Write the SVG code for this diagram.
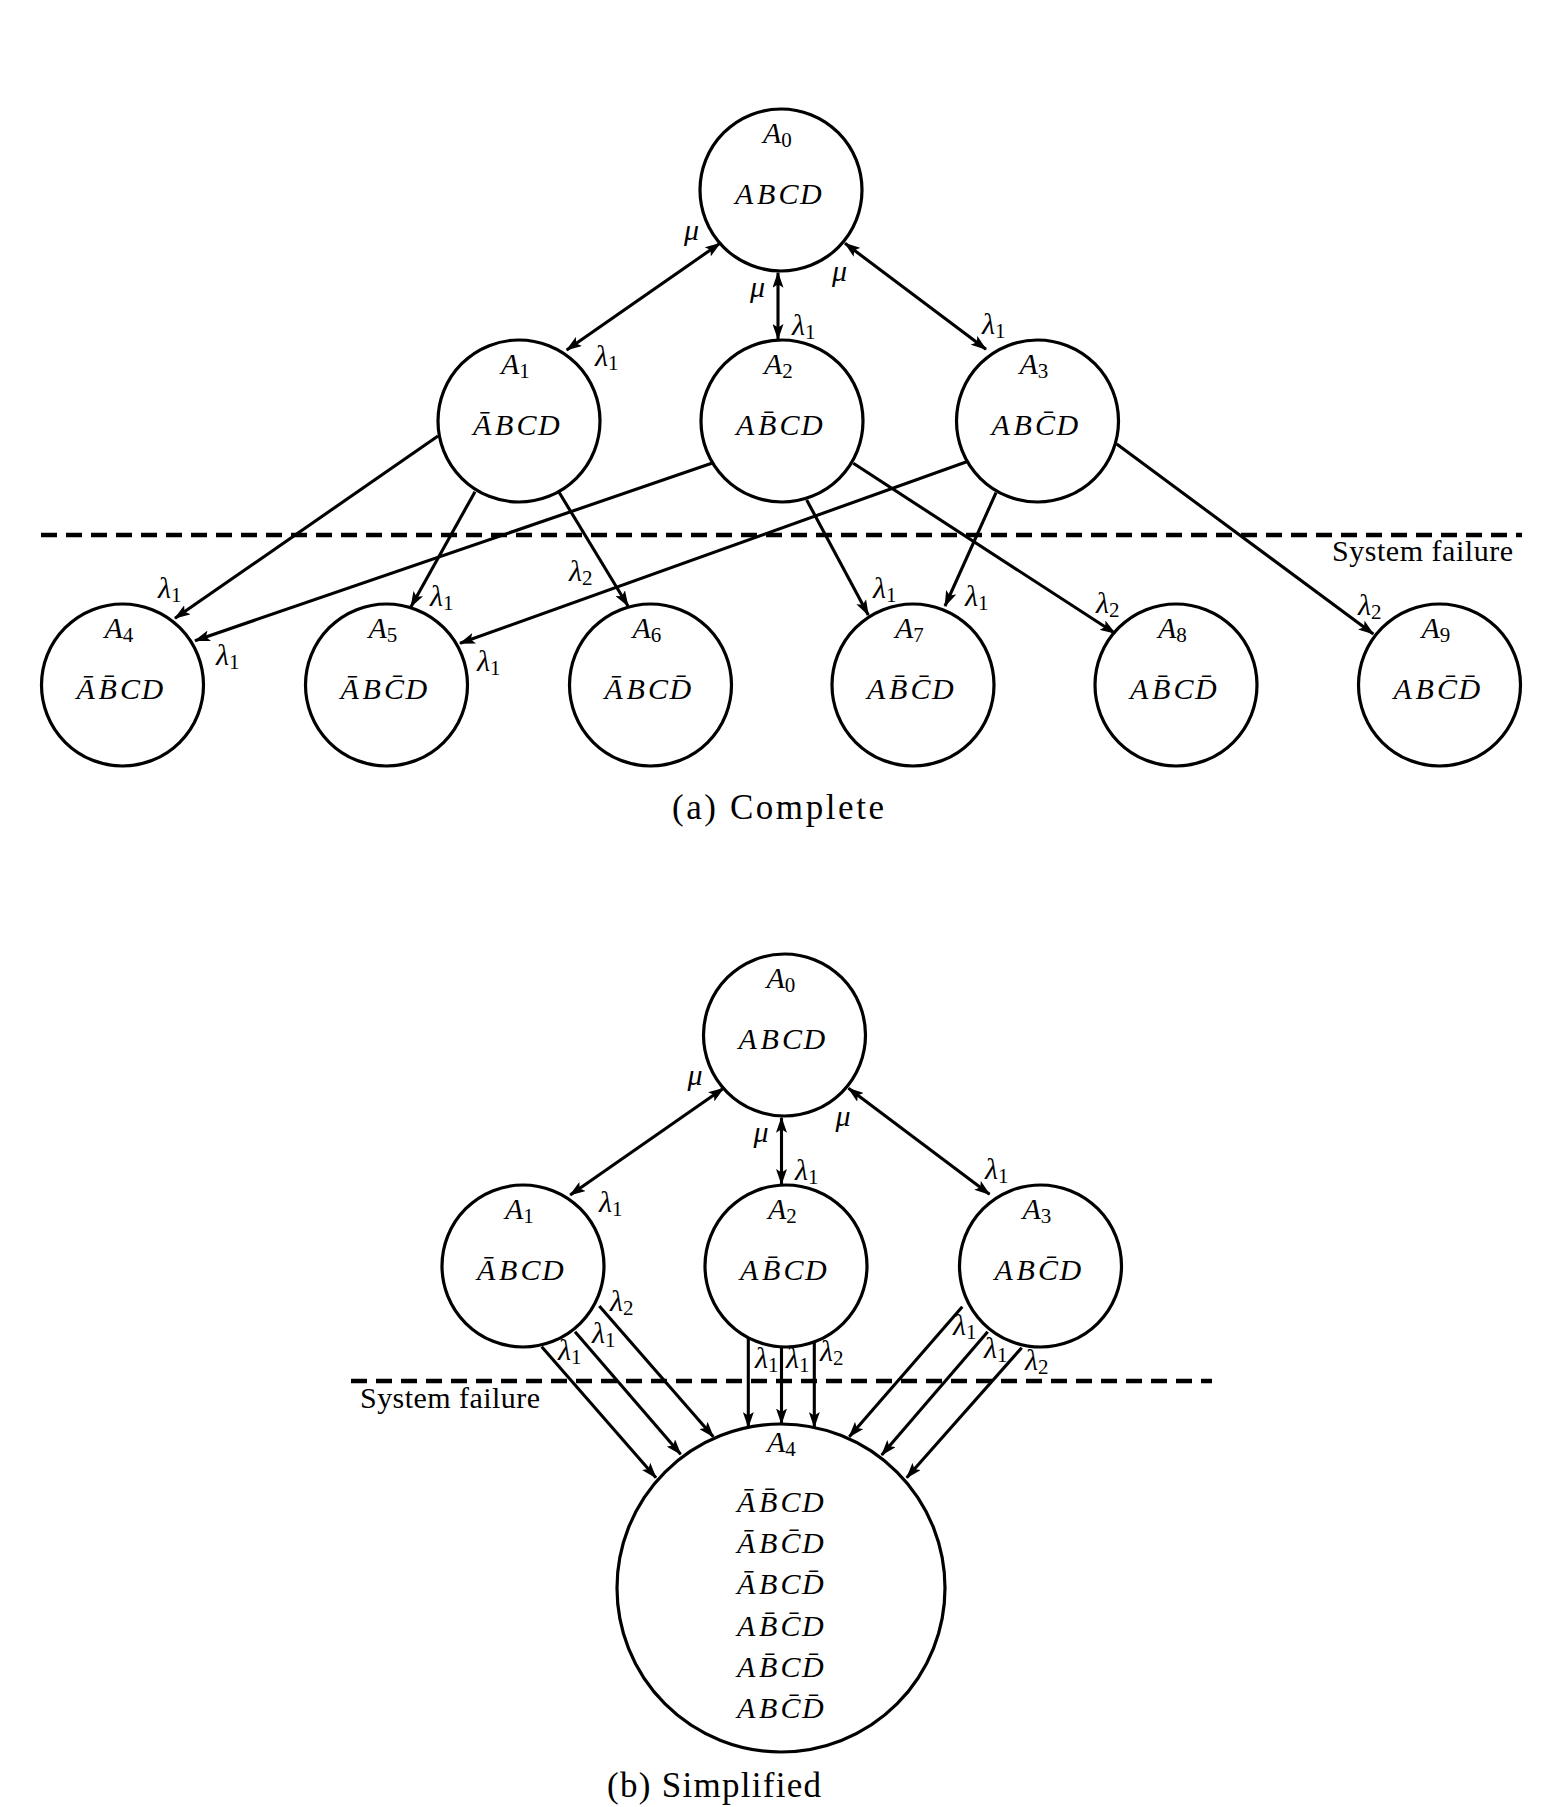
<svg xmlns="http://www.w3.org/2000/svg" width="1554" height="1807" viewBox="0 0 1554 1807">
<style>
.node circle{fill:none;stroke:#000;stroke-width:3.2}
.m{font-family:"Liberation Serif",serif;font-style:italic;font-size:30px;fill:#000}
.s{font-style:normal;font-size:21px}
.t{font-family:"Liberation Serif",serif;font-size:30px;fill:#000}
.cap{font-family:"Liberation Serif",serif;font-size:35px;fill:#000}
.conn line{stroke:#000;stroke-width:3.1;fill:none}
.one{marker-end:url(#ah)}
.two{marker-start:url(#ah);marker-end:url(#ah)}
.dash{stroke:#000;stroke-width:4.5;stroke-dasharray:16 9;fill:none}
</style>
<defs>
<marker id="ah" viewBox="0 0 16 11" refX="15" refY="5.5" markerWidth="16" markerHeight="11" markerUnits="userSpaceOnUse" orient="auto-start-reverse"><path d="M0,0 L16,5.5 L0,11 L3.5,5.5 z" fill="#000"/></marker>
</defs>
<rect width="1554" height="1807" fill="#fff"/>

<!-- (a) Complete -->
<g id="a-A0" class="node"><circle cx="781" cy="190" r="81"/><text class="m" x="763" y="143">A<tspan class="s" dy="4">0</tspan></text><text class="m" y="204"><tspan x="735">A</tspan><tspan x="757">B</tspan><tspan x="778.5">C</tspan><tspan x="800">D</tspan></text></g>
<g id="a-A1" class="node"><circle cx="519" cy="421" r="81"/><text class="m" x="501" y="374">A<tspan class="s" dy="4">1</tspan></text><text class="m" y="435"><tspan x="473">A&#x304;</tspan><tspan x="495">B</tspan><tspan x="516.5">C</tspan><tspan x="538">D</tspan></text></g>
<g id="a-A2" class="node"><circle cx="782" cy="421" r="81"/><text class="m" x="764" y="374">A<tspan class="s" dy="4">2</tspan></text><text class="m" y="435"><tspan x="736">A</tspan><tspan x="758">B&#x304;</tspan><tspan x="779.5">C</tspan><tspan x="801">D</tspan></text></g>
<g id="a-A3" class="node"><circle cx="1037.5" cy="421" r="81"/><text class="m" x="1019.5" y="374">A<tspan class="s" dy="4">3</tspan></text><text class="m" y="435"><tspan x="991.5">A</tspan><tspan x="1013.5">B</tspan><tspan x="1035">C&#x304;</tspan><tspan x="1056.5">D</tspan></text></g>
<g id="a-A4" class="node"><circle cx="122.5" cy="685" r="81"/><text class="m" x="104.5" y="638">A<tspan class="s" dy="4">4</tspan></text><text class="m" y="699"><tspan x="76.5">A&#x304;</tspan><tspan x="98.5">B&#x304;</tspan><tspan x="120">C</tspan><tspan x="141.5">D</tspan></text></g>
<g id="a-A5" class="node"><circle cx="386.5" cy="685" r="81"/><text class="m" x="368.5" y="638">A<tspan class="s" dy="4">5</tspan></text><text class="m" y="699"><tspan x="340.5">A&#x304;</tspan><tspan x="362.5">B</tspan><tspan x="384">C&#x304;</tspan><tspan x="405.5">D</tspan></text></g>
<g id="a-A6" class="node"><circle cx="650.5" cy="685" r="81"/><text class="m" x="632.5" y="638">A<tspan class="s" dy="4">6</tspan></text><text class="m" y="699"><tspan x="604.5">A&#x304;</tspan><tspan x="626.5">B</tspan><tspan x="648">C</tspan><tspan x="669.5">D&#x304;</tspan></text></g>
<g id="a-A7" class="node"><circle cx="913" cy="685" r="81"/><text class="m" x="895" y="638">A<tspan class="s" dy="4">7</tspan></text><text class="m" y="699"><tspan x="867">A</tspan><tspan x="889">B&#x304;</tspan><tspan x="910.5">C&#x304;</tspan><tspan x="932">D</tspan></text></g>
<g id="a-A8" class="node"><circle cx="1176" cy="685" r="81"/><text class="m" x="1158" y="638">A<tspan class="s" dy="4">8</tspan></text><text class="m" y="699"><tspan x="1130">A</tspan><tspan x="1152">B&#x304;</tspan><tspan x="1173.5">C</tspan><tspan x="1195">D&#x304;</tspan></text></g>
<g id="a-A9" class="node"><circle cx="1439.5" cy="685" r="81"/><text class="m" x="1421.5" y="638">A<tspan class="s" dy="4">9</tspan></text><text class="m" y="699"><tspan x="1393.5">A</tspan><tspan x="1415.5">B</tspan><tspan x="1437">C&#x304;</tspan><tspan x="1458.5">D&#x304;</tspan></text></g>

<g id="a-connectors" class="conn">
<line class="two" x1="720" y1="243.3" x2="566.7" y2="350"/>
<line class="two" x1="778" y1="272.7" x2="778" y2="339"/>
<line class="two" x1="845" y1="243.3" x2="986" y2="349.3"/>
<line class="one" x1="438" y1="436" x2="175" y2="618.3"/>
<line class="one" x1="475" y1="491.7" x2="411" y2="606.7"/>
<line class="one" x1="558.3" y1="491" x2="628" y2="606"/>
<line class="one" x1="711.7" y1="463.3" x2="195" y2="640.7"/>
<line class="one" x1="966.7" y1="461.7" x2="460" y2="643.3"/>
<line class="one" x1="806.7" y1="500" x2="868.3" y2="615"/>
<line class="one" x1="996" y1="492.7" x2="945" y2="606"/>
<line class="one" x1="853.3" y1="463.3" x2="1115" y2="633.3"/>
<line class="one" x1="1116.7" y1="444" x2="1373.3" y2="634"/>
</g>
<g id="a-labels">
<text class="m" x="684" y="240">μ</text>
<text class="m" x="595" y="366">λ<tspan class="s" dy="4">1</tspan></text>
<text class="m" x="750" y="297">μ</text>
<text class="m" x="792" y="335">λ<tspan class="s" dy="4">1</tspan></text>
<text class="m" x="832" y="281">μ</text>
<text class="m" x="982" y="334">λ<tspan class="s" dy="4">1</tspan></text>
<text class="m" x="158" y="598">λ<tspan class="s" dy="4">1</tspan></text>
<text class="m" x="216" y="665">λ<tspan class="s" dy="4">1</tspan></text>
<text class="m" x="430" y="606">λ<tspan class="s" dy="4">1</tspan></text>
<text class="m" x="569" y="581">λ<tspan class="s" dy="4">2</tspan></text>
<text class="m" x="477" y="671">λ<tspan class="s" dy="4">1</tspan></text>
<text class="m" x="873" y="598">λ<tspan class="s" dy="4">1</tspan></text>
<text class="m" x="965" y="606">λ<tspan class="s" dy="4">1</tspan></text>
<text class="m" x="1096" y="613">λ<tspan class="s" dy="4">2</tspan></text>
<text class="m" x="1358" y="615">λ<tspan class="s" dy="4">2</tspan></text>
</g>
<line class="dash" x1="41" y1="535" x2="1522" y2="535"/>
<text class="t" x="1332" y="561" textLength="181" lengthAdjust="spacing">System failure</text>
<text class="cap" x="672" y="819" textLength="212" lengthAdjust="spacing">(a) Complete</text>

<!-- (b) Simplified -->
<g id="b-A0" class="node"><circle cx="784.5" cy="1035" r="81"/><text class="m" x="766.5" y="988">A<tspan class="s" dy="4">0</tspan></text><text class="m" y="1049"><tspan x="738.5">A</tspan><tspan x="760.5">B</tspan><tspan x="782">C</tspan><tspan x="803.5">D</tspan></text></g>
<g id="b-A1" class="node"><circle cx="523" cy="1266" r="81"/><text class="m" x="505" y="1219">A<tspan class="s" dy="4">1</tspan></text><text class="m" y="1280"><tspan x="477">A&#x304;</tspan><tspan x="499">B</tspan><tspan x="520.5">C</tspan><tspan x="542">D</tspan></text></g>
<g id="b-A2" class="node"><circle cx="786" cy="1266" r="81"/><text class="m" x="768" y="1219">A<tspan class="s" dy="4">2</tspan></text><text class="m" y="1280"><tspan x="740">A</tspan><tspan x="762">B&#x304;</tspan><tspan x="783.5">C</tspan><tspan x="805">D</tspan></text></g>
<g id="b-A3" class="node"><circle cx="1040.5" cy="1266" r="81"/><text class="m" x="1022.5" y="1219">A<tspan class="s" dy="4">3</tspan></text><text class="m" y="1280"><tspan x="994.5">A</tspan><tspan x="1016.5">B</tspan><tspan x="1038">C&#x304;</tspan><tspan x="1059.5">D</tspan></text></g>
<g id="b-A4" class="node"><circle cx="781" cy="1588" r="164"/><text class="m" x="767" y="1452">A<tspan class="s" dy="4">4</tspan></text>
<text class="m" y="1512"><tspan x="737">A&#x304;</tspan><tspan x="759">B&#x304;</tspan><tspan x="780.5">C</tspan><tspan x="802">D</tspan></text>
<text class="m" y="1553"><tspan x="737">A&#x304;</tspan><tspan x="759">B</tspan><tspan x="780.5">C&#x304;</tspan><tspan x="802">D</tspan></text>
<text class="m" y="1594"><tspan x="737">A&#x304;</tspan><tspan x="759">B</tspan><tspan x="780.5">C</tspan><tspan x="802">D&#x304;</tspan></text>
<text class="m" y="1636"><tspan x="737">A</tspan><tspan x="759">B&#x304;</tspan><tspan x="780.5">C&#x304;</tspan><tspan x="802">D</tspan></text>
<text class="m" y="1677"><tspan x="737">A</tspan><tspan x="759">B&#x304;</tspan><tspan x="780.5">C</tspan><tspan x="802">D&#x304;</tspan></text>
<text class="m" y="1718"><tspan x="737">A</tspan><tspan x="759">B</tspan><tspan x="780.5">C&#x304;</tspan><tspan x="802">D&#x304;</tspan></text>
</g>
<g id="b-connectors" class="conn">
<line class="two" x1="723.5" y1="1088.3" x2="570.2" y2="1195"/>
<line class="two" x1="781.5" y1="1117.7" x2="781.5" y2="1184"/>
<line class="two" x1="848.5" y1="1088.3" x2="989.5" y2="1194.3"/>
<line class="one" x1="541.7" y1="1346.7" x2="656" y2="1477.7"/>
<line class="one" x1="575" y1="1331.7" x2="680.7" y2="1454.3"/>
<line class="one" x1="599.3" y1="1306" x2="713.3" y2="1436.7"/>
<line class="one" x1="748.3" y1="1337.5" x2="748.3" y2="1427"/>
<line class="one" x1="781.5" y1="1346.8" x2="781.5" y2="1423.5"/>
<line class="one" x1="814.3" y1="1342" x2="814.3" y2="1427"/>
<line class="one" x1="962.3" y1="1306.7" x2="849.3" y2="1436.7"/>
<line class="one" x1="987.7" y1="1331.7" x2="881.7" y2="1455"/>
<line class="one" x1="1021.7" y1="1347.7" x2="906.7" y2="1477.7"/>
</g>
<g id="b-labels">
<text class="m" x="687.5" y="1085">μ</text>
<text class="m" x="599" y="1212">λ<tspan class="s" dy="4">1</tspan></text>
<text class="m" x="753.5" y="1142">μ</text>
<text class="m" x="795" y="1180">λ<tspan class="s" dy="4">1</tspan></text>
<text class="m" x="835.5" y="1126">μ</text>
<text class="m" x="985" y="1179">λ<tspan class="s" dy="4">1</tspan></text>
<text class="m" x="558" y="1360">λ<tspan class="s" dy="4">1</tspan></text>
<text class="m" x="592" y="1343">λ<tspan class="s" dy="4">1</tspan></text>
<text class="m" x="610" y="1311">λ<tspan class="s" dy="4">2</tspan></text>
<text class="m" x="755" y="1368">λ<tspan class="s" dy="4">1</tspan></text>
<text class="m" x="786" y="1368">λ<tspan class="s" dy="4">1</tspan></text>
<text class="m" x="820" y="1361">λ<tspan class="s" dy="4">2</tspan></text>
<text class="m" x="953" y="1335">λ<tspan class="s" dy="4">1</tspan></text>
<text class="m" x="984" y="1358">λ<tspan class="s" dy="4">1</tspan></text>
<text class="m" x="1025" y="1370">λ<tspan class="s" dy="4">2</tspan></text>
</g>
<line class="dash" x1="351" y1="1381" x2="1212" y2="1381"/>
<text class="t" x="360" y="1408" textLength="180" lengthAdjust="spacing">System failure</text>
<text class="cap" x="607" y="1797" textLength="214" lengthAdjust="spacing">(b) Simplified</text>
</svg>
